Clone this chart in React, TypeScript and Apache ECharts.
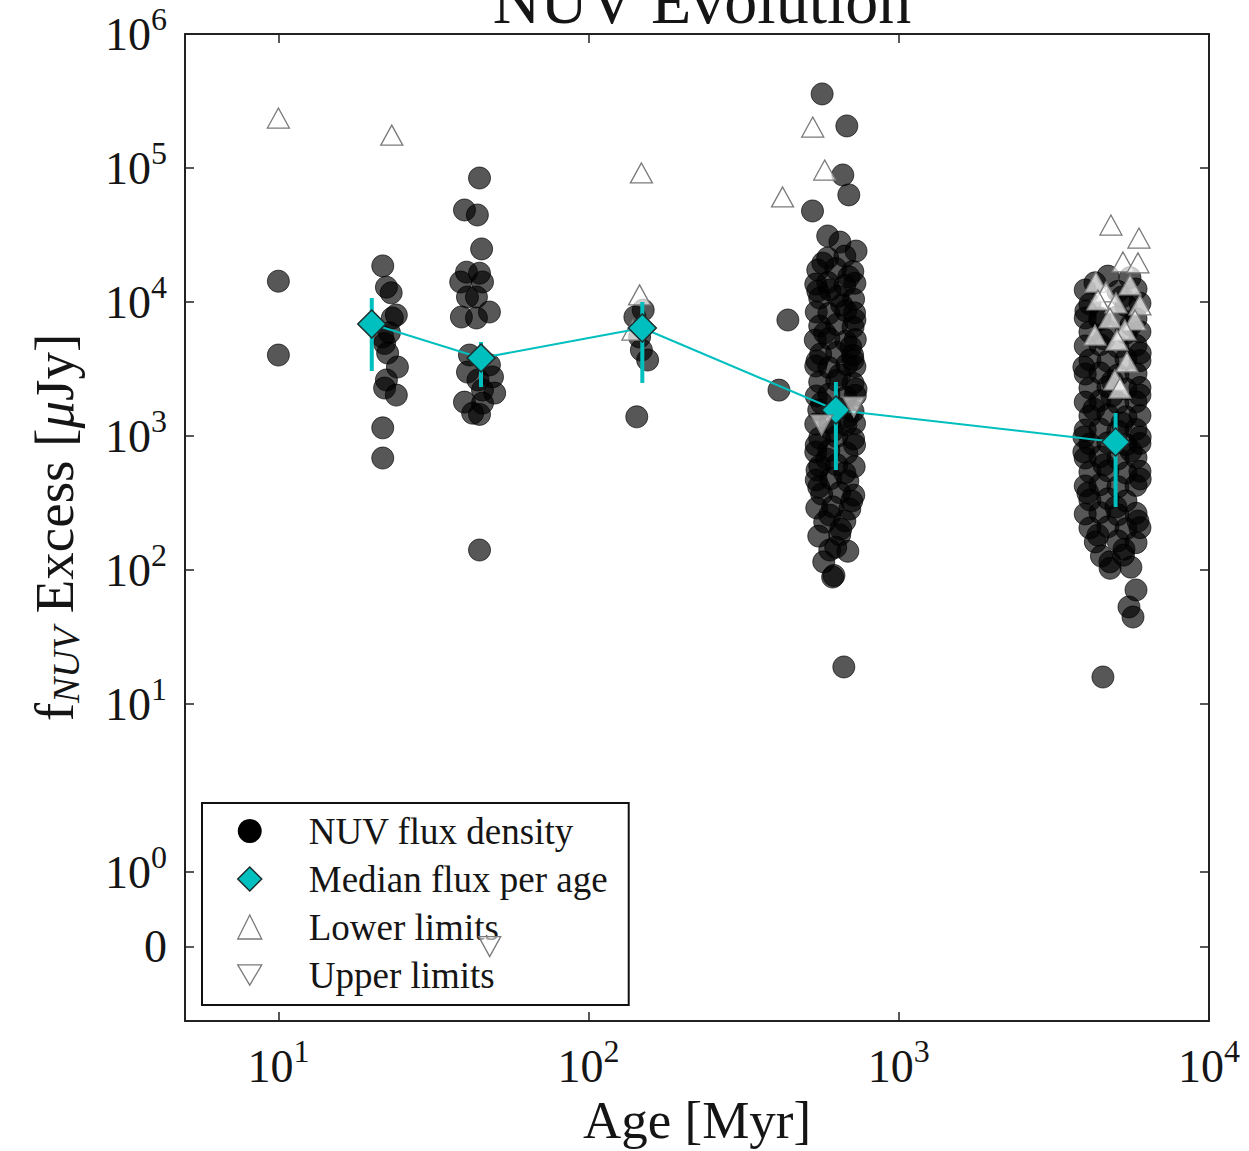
import React, { useEffect, useRef } from "react";
import * as echarts from "echarts";

const FONT = "'Liberation Serif', 'DejaVu Serif', serif";
const TEAL = "#00bfbf";
const INK = "#151515";

// symlog scale (matplotlib style), linthresh 2, base 10
const LINTHRESH = 2;
const LINSCALE = 1 / (1 - 1 / 10);
const sl = (v: number) => {
  const a = Math.abs(v);
  return a <= LINTHRESH ? (v * LINSCALE) / LINTHRESH : Math.sign(v) * (LINSCALE + Math.log10(a / LINTHRESH));
};

// ---- data: [age (Myr), NUV flux excess (µJy)] ----
const detections10 = [[10, 14300], [10, 4020]];
const detections22 = [
  [21.7, 18600], [22.3, 12900], [23.1, 11700], [24.0, 8000], [23.3, 7600], [22.8, 5900], [22.0, 4900],
  [21.7, 5480], [22.5, 4160], [24.2, 3270], [22.3, 2620], [22.0, 2280], [24.0, 2020], [21.7, 1150], [21.7, 685],
];
const detections45 = [
  [44.5, 84200], [39.8, 48600], [43.8, 44600], [45.2, 24900], [40.4, 16700], [44.5, 16400], [38.7, 14100],
  [45.5, 14100], [40.7, 10900], [43.5, 10900], [47.9, 8420], [38.9, 7730], [43.5, 7600], [41.3, 4020],
  [47.9, 3390], [44.0, 2620], [40.7, 3000], [49.0, 2760], [45.5, 2200], [49.8, 2090], [39.8, 1790],
  [42.3, 1480], [44.5, 1450], [45.5, 1760], [44.5, 141],
];
const detections150 = [[150, 8710], [141, 7730], [146, 5480], [148, 4380], [155, 3690], [143, 1390]];
const detections600 = [
  [566, 357000], [680, 206000], [660, 88700], [690, 63000], [527, 47800], [590, 31100], [646, 28000], [728, 24000],
  [439, 7340], [411, 2200], [665, 18.9],
  [590, 21300], [670, 22000], [548, 17300], [626, 17800], [711, 16900],
  [540, 13600], [590, 14000], [670, 13300], [722, 13800], [556, 10700], [636, 11000], [715, 10500],
  [542, 8420], [595, 8200], [675, 8600], [720, 8300], [556, 6620], [631, 6800], [712, 6500],
  [538, 5200], [595, 5350], [675, 5100], [724, 5250], [560, 4090], [631, 4200], [710, 4000],
  [540, 3330], [595, 3250], [680, 3400], [722, 3300], [556, 2530], [631, 2600], [712, 2480],
  [542, 1990], [595, 2050], [675, 1950], [724, 2010], [552, 1563], [636, 1600], [712, 1530],
  [540, 1229], [599, 1260], [675, 1210], [720, 1240], [556, 966], [631, 990], [715, 950],
  [540, 760], [595, 780], [680, 745], [556, 597], [631, 610], [718, 590],
  [542, 470], [603, 480], [685, 462], [564, 369], [645, 378], [716, 362],
  [544, 290], [612, 296], [695, 285], [577, 228], [670, 232], [552, 179], [645, 183],
  [599, 141], [685, 138], [573, 115], [612, 88.6], [618, 91],
  [569, 19500], [690, 15400], [548, 12100], [655, 9500], [722, 7340], [577, 5870], [700, 4620], [545, 3630],
  [645, 2850], [728, 2240], [564, 1760], [685, 1390], [612, 1090], [542, 857], [720, 857], [586, 674],
  [670, 530], [552, 416], [705, 327], [599, 257], [650, 202], [545, 557], [626, 148], [712, 3690], [599, 12300],
];
const detections5000 = [
  [4722, 15600], [5563, 15200], [3990, 12300], [5087, 12000], [5817, 12500],
  [4132, 9660], [5399, 9400], [5990, 9800], [3990, 7600], [4450, 7400], [5087, 7800], [5817, 7500],
  [4132, 5970], [4722, 6100], [5399, 5850], [5990, 6000], [3990, 4700], [4450, 4800], [5087, 4620], [5817, 4750],
  [4132, 3690], [4722, 3620], [5399, 3760], [5990, 3650], [3990, 2900], [4450, 2960], [5087, 2850], [5817, 2920],
  [4132, 2280], [4722, 2330], [5399, 2240], [5990, 2300], [3990, 1790], [4450, 1830], [5087, 1760], [5817, 1800],
  [4132, 1410], [4722, 1440], [5399, 1390], [5990, 1420], [3990, 1109], [4450, 1130], [5087, 1090], [5817, 1120],
  [4132, 872], [4722, 890], [5399, 860], [5990, 880], [3990, 685], [4450, 700], [5087, 675], [5817, 690],
  [4132, 539], [4722, 550], [5399, 530], [5990, 545], [3990, 424], [4450, 433], [5087, 418], [5817, 428],
  [4132, 333], [4722, 340], [5399, 328], [3990, 262], [4450, 268], [5087, 258], [5817, 265],
  [4132, 206], [4722, 210], [5399, 203], [5990, 207], [4300, 162], [5087, 165], [5817, 160],
  [4500, 127], [5300, 129], [4800, 103], [5600, 105],
  [4289, 13900], [5241, 10900], [4010, 8570], [5603, 6740], [4584, 5300], [6000, 4160], [3950, 3270],
  [4880, 2570], [5989, 2020], [4256, 1590], [5241, 1250], [3952, 983], [5603, 773], [4584, 608], [6000, 478],
  [4071, 375], [5012, 295], [5902, 232], [4385, 182], [5319, 143], [4793, 115], [3950, 760], [6000, 983],
  [4864, 1990], [4450, 7600],
  [5817, 71], [5521, 53], [5688, 44.6], [4550, 15.9],
];
const lowerLimits = [
  [10, 236000], [23.2, 176000], [148, 91800], [146, 11300], [139, 6180], [528, 202000], [577, 96600], [422, 60800],
  [4828, 37500], [5946, 30000], [5280, 19900], [5902, 19600], [4320, 14100], [4652, 11900], [5563, 13400],
  [5012, 9830], [5989, 9500], [4385, 10350], [4793, 7600], [5774, 7340], [5358, 6180], [4289, 5670],
  [5049, 5200], [5440, 3570], [4973, 2620], [5163, 2280],
];
const upperLimits = [[48, 0], [716, 1645], [564, 1208]];

const medianAges = [20, 45, 149, 627, 5000];
const medianFlux = [6850, 3820, 6400, 1563, 902];
const medianLow = [3055, 2320, 2490, 557, 295];
const medianHigh = [10700, 5030, 10000, 2530, 1485];

const xTickValues = [10, 100, 1000, 10000];
const yTickValues = [0, 1, 10, 100, 1000, 10000, 100000, 1000000];
const yTickLabels = ["0", "10^0", "10^1", "10^2", "10^3", "10^4", "10^5", "10^6"];

const toPlot = (arr: number[][]) => arr.map(([a, f]) => [a, sl(f)]);

export default function App() {
  const ref = useRef<HTMLDivElement>(null);
  useEffect(() => {
    const chart = echarts.init(ref.current!, null, { renderer: "svg" });
    const yTickPos = yTickValues.map(sl);
    const tickRich = {
      n: { fontFamily: FONT, fontSize: 46, lineHeight: 62, color: INK, verticalAlign: "middle" },
      s: { fontFamily: FONT, fontSize: 32, lineHeight: 32, color: INK, verticalAlign: "top" },
    };
    const fmtPow = (label: string) => {
      if (label.indexOf("^") < 0) return `{n|${label}}`;
      const [b, e] = label.split("^");
      return `{n|${b}}{s|${e}}`;
    };
    const axisLine = { show: true, onZero: false, lineStyle: { color: "#222", width: 2 } };
    const tickStyle = { color: "#222", width: 1.5 };
    const detections = toPlot([
      ...detections10, ...detections22, ...detections45, ...detections150, ...detections600, ...detections5000,
    ]);
    const option: any = {
      animation: false,
      backgroundColor: "#fff",
      title: {
        text: "NUV Evolution",
        left: 697,
        textAlign: "center",
        top: -38,
        textStyle: { fontFamily: FONT, fontSize: 66, fontWeight: "normal", color: INK },
      },
      grid: { left: 185, right: 40, top: 34, bottom: 130, outerBoundsMode: "none" },
      legend: {
        orient: "vertical",
        left: 202,
        top: 803,
        padding: [8, 21, 10, 35],
        itemWidth: 24,
        itemHeight: 24,
        itemGap: 8,
        selectedMode: false,
        borderColor: "#111",
        borderWidth: 2,
        borderRadius: 0,
        backgroundColor: "#fff",
        textStyle: { fontFamily: FONT, fontSize: 37, lineHeight: 40, color: INK, padding: [0, 0, 0, 42] },
        data: [
          { name: "NUV flux density", icon: "circle", itemStyle: { color: "#000", borderWidth: 0 } },
          { name: "Median flux per age", icon: "diamond", itemStyle: { color: TEAL, borderColor: "#1d2b2b", borderWidth: 1.5 } },
          { name: "Lower limits", icon: "triangle", itemStyle: { color: "#fff", borderColor: "#7a7a7a", borderWidth: 1.3 } },
          { name: "Upper limits", icon: "path://M0,0L20,0L10,17Z", itemStyle: { color: "#fff", borderColor: "#7a7a7a", borderWidth: 1.3 } },
        ],
      },
      xAxis: [
        {
          type: "log",
          logBase: 10,
          min: 5,
          max: 10000,
          position: "bottom",
          axisLine,
          axisTick: { show: true, inside: true, length: 9, customValues: xTickValues, lineStyle: tickStyle },
          minorTick: { show: false },
          splitLine: { show: false },
          axisLabel: {
            customValues: xTickValues,
            margin: 14,
            formatter: (v: number) => fmtPow(`10^${Math.round(Math.log10(v))}`),
            rich: tickRich,
          },
          name: "Age [Myr]",
          nameLocation: "middle",
          nameGap: 68,
          nameTextStyle: { fontFamily: FONT, fontSize: 53, color: INK },
        },
        {
          type: "log",
          logBase: 10,
          min: 5,
          max: 10000,
          position: "top",
          axisLine,
          axisTick: { show: true, inside: true, length: 9, customValues: xTickValues, lineStyle: tickStyle },
          minorTick: { show: false },
          splitLine: { show: false },
          axisLabel: { show: false },
        },
      ],
      yAxis: [
        {
          type: "value",
          min: sl(-1),
          max: sl(1e6),
          position: "left",
          axisLine,
          axisTick: { show: true, inside: true, length: 9, customValues: yTickPos, lineStyle: tickStyle },
          splitLine: { show: false },
          axisLabel: {
            customValues: yTickPos,
            margin: 18,
            formatter: (v: number) => {
              const i = yTickPos.findIndex((p) => Math.abs(p - v) < 1e-4);
              return i < 0 ? "" : fmtPow(yTickLabels[i]);
            },
            rich: tickRich,
          },
          name: "{f|f}{sub|NUV}{t| Excess [}{mu|μ}{t|Jy]}",
          nameLocation: "middle",
          nameRotate: 90,
          nameGap: 100,
          nameTextStyle: {
            fontFamily: FONT,
            fontSize: 55,
            color: INK,
            rich: {
              f: { fontFamily: FONT, fontSize: 55, lineHeight: 62, color: INK, verticalAlign: "middle" },
              t: { fontFamily: FONT, fontSize: 55, lineHeight: 62, color: INK, verticalAlign: "middle" },
              mu: { fontFamily: FONT, fontSize: 55, fontStyle: "italic", lineHeight: 62, color: INK, verticalAlign: "middle" },
              sub: { fontFamily: FONT, fontSize: 38, fontStyle: "italic", lineHeight: 30, color: INK, verticalAlign: "bottom" },
            },
          },
        },
        {
          type: "value",
          min: sl(-1),
          max: sl(1e6),
          position: "right",
          axisLine,
          axisTick: { show: true, inside: true, length: 9, customValues: yTickPos, lineStyle: tickStyle },
          splitLine: { show: false },
          axisLabel: { show: false },
        },
      ],
      series: [
        {
          name: "NUV flux density",
          type: "scatter",
          data: detections,
          symbol: "circle",
          symbolSize: 22,
          itemStyle: { color: "rgba(0,0,0,0.66)", borderColor: "rgba(0,0,0,0.66)", borderWidth: 1, opacity: 1 },
          z: 2,
        },
        {
          name: "Lower limits",
          type: "scatter",
          data: toPlot(lowerLimits),
          symbol: "triangle",
          symbolSize: [22, 20],
          itemStyle: { color: "rgba(255,255,255,0.7)", borderColor: "#7a7a7a", borderWidth: 1.3, opacity: 1 },
          z: 3,
        },
        {
          name: "Upper limits",
          type: "scatter",
          data: toPlot(upperLimits),
          symbol: "path://M0,0L20,0L10,17Z",
          symbolSize: [22, 20],
          itemStyle: { color: "rgba(255,255,255,0.6)", borderColor: "#7a7a7a", borderWidth: 1.3, opacity: 1 },
          z: 6,
        },
        {
          name: "errors",
          type: "custom",
          data: medianAges.map((a, i) => [a, sl(medianLow[i]), sl(medianHigh[i])]),
          encode: { x: 0, y: [1, 2] },
          renderItem: (params: any, api: any) => {
            const x = api.value(0);
            const p1 = api.coord([x, api.value(1)]);
            const p2 = api.coord([x, api.value(2)]);
            return {
              type: "line",
              shape: { x1: p1[0], y1: p1[1], x2: p2[0], y2: p2[1] },
              style: { stroke: TEAL, lineWidth: 4 },
            };
          },
          z: 4,
        },
        {
          name: "Median flux per age",
          type: "line",
          data: medianAges.map((a, i) => [a, sl(medianFlux[i])]),
          symbol: "diamond",
          symbolSize: 28,
          showAllSymbol: true,
          lineStyle: { color: TEAL, width: 2 },
          itemStyle: { color: TEAL, borderColor: "#1d2b2b", borderWidth: 1.5 },
          z: 5,
        },
      ],
    };
    chart.setOption(option);
    return () => chart.dispose();
  }, []);
  return (
    <div
      ref={ref}
      style={{ position: "fixed", left: 0, top: 0, width: 1249, height: 1151, background: "#fff" }}
    />
  );
}
